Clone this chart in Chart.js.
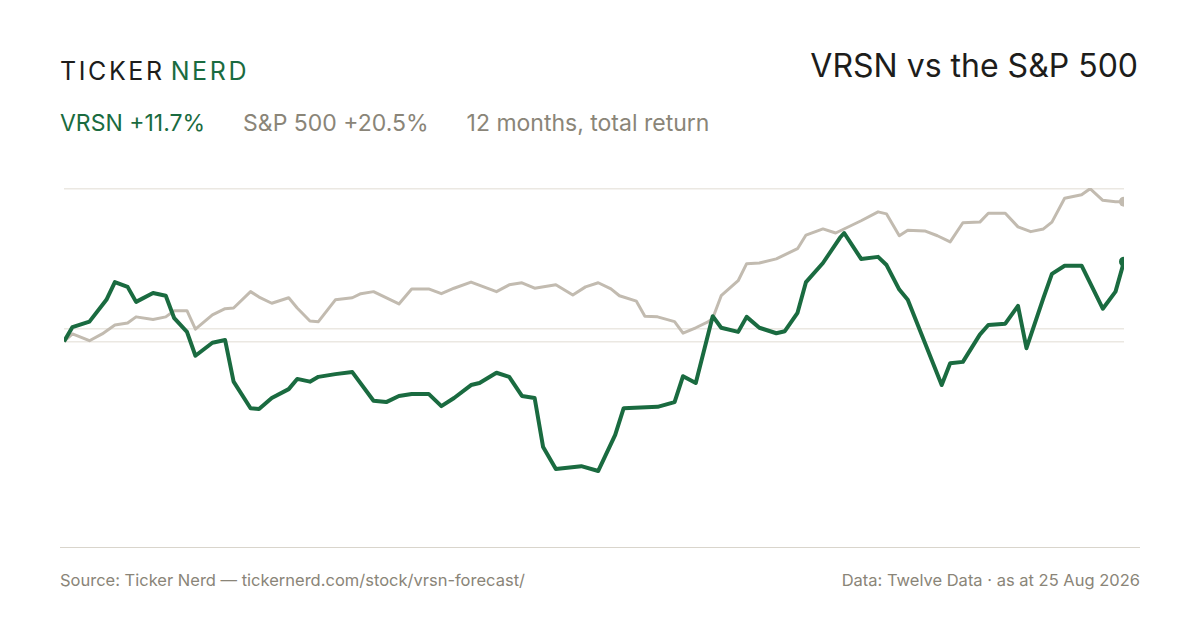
<!DOCTYPE html>
<html>
<head>
<meta charset="utf-8">
<script src="https://cdn.jsdelivr.net/npm/chart.js@4"></script>
<style>
  body { margin: 0; width: 1200px; height: 630px; background: #fff; font-family: Inter, "Noto Sans", sans-serif; position: relative; overflow: hidden; }
  .logo { position: absolute; left: 60px; top: 56px; font-size: 25px; letter-spacing: 2.6px; color: #1d1d1b; }
  .logo span { color: #1a6b40; margin-left: 6px; }
  .title { position: absolute; right: 62px; top: 46px; font-size: 32px; color: #1d1d1b; }
  .sub { position: absolute; left: 60px; top: 109px; font-size: 23px; color: #8a8578; }
  .sub .v { color: #1a6b40; margin-right: 38px; }
  .sub .s { margin-right: 38px; }
  .axis { position: absolute; left: 60px; width: 1080px; top: 547px; height: 1px; background: #d9d5cc; }
  .foot { position: absolute; top: 570px; font-size: 16.5px; color: #8a8578; }
  #wrap { position: absolute; left: 56px; top: 180px; width: 1076px; height: 376px; }
</style>
</head>
<body>
<div class="logo">TICKER<span>NERD</span></div>
<div class="title">VRSN vs the S&amp;P 500</div>
<div class="sub"><span class="v">VRSN +11.7%</span><span class="s">S&amp;P 500 +20.5%</span>12 months, total return</div>
<div id="wrap"><canvas id="c"></canvas></div>
<div class="axis"></div>
<div class="foot" style="left:60px">Source: Ticker Nerd — tickernerd.com/stock/vrsn-forecast/</div>
<div class="foot" style="right:60px">Data: Twelve Data · as at 25 Aug 2026</div>
<script>
// trading day index and total return (%)
const vrsnDays = [0,2,6,10,12,15,17,21,24,26,29,31,35,38,40,44,46,49,53,55,58,60,64,68,73,76,79,82,86,89,92,96,98,102,105,108,111,113,116,122,126,130,132,140,144,146,149,153,155,159,161,164,168,170,173,175,179,183,184,188,192,194,197,199,207,209,212,216,218,222,225,227,231,233,236,240,245,248,250];
const vrsnReturn = [0,2.1,2.9,6.1,8.7,8.0,5.8,7.1,6.7,3.4,1.4,-2.1,-0.2,0.2,-5.9,-9.8,-9.9,-8.3,-7.0,-5.5,-5.9,-5.2,-4.8,-4.5,-8.7,-8.9,-8.0,-7.7,-7.7,-9.5,-8.3,-6.4,-6.1,-4.6,-5.2,-8.0,-8.3,-15.5,-18.7,-18.3,-19.0,-13.7,-9.8,-9.6,-8.9,-5.1,-6.1,3.7,2.0,1.4,3.6,2.0,1.2,1.5,4.2,8.7,11.5,15.2,15.9,12.1,12.4,11.2,7.6,6.1,-6.4,-3.2,-3.0,1.0,2.4,2.6,5.2,-1.0,6.4,9.9,11.1,11.1,4.8,7.3,11.7];
const spxDays = [0,2,6,9,12,15,17,21,24,26,29,31,35,38,40,44,46,49,53,55,58,60,64,68,70,73,79,82,86,89,92,96,102,105,108,111,116,120,123,126,129,131,135,137,140,144,146,149,152,153,155,159,161,164,168,173,175,179,182,188,192,194,197,199,203,206,209,212,216,218,222,225,228,231,233,236,240,242,245,248,250];
const spxReturn = [0,1.1,0.1,1.1,2.4,2.7,3.6,3.2,3.6,4.5,4.5,1.8,3.9,4.8,4.9,7.3,6.5,5.6,6.4,4.9,3.0,2.9,6.1,6.4,7.0,7.3,5.5,7.7,7.7,7.0,7.8,8.7,7.3,8.3,8.6,7.8,8.3,6.8,8.0,8.6,7.7,6.7,5.9,3.7,3.6,2.9,1.2,2.0,2.9,3.4,6.7,8.9,11.4,11.5,12.1,13.6,15.6,16.5,15.9,17.7,19.0,18.7,15.5,16.3,16.2,15.5,14.6,17.4,17.5,18.8,18.8,16.8,16.1,16.5,17.5,21.0,21.5,22.4,20.7,20.5,20.5];
const gridValues = [22.4, 1.8, 0];

const toPts = (d, v) => d.map((x, i) => ({ x, y: v[i] }));
const lastDot = (n) => (ctx) => ctx.dataIndex === n - 1 ? 5 : 0;

new Chart(document.getElementById('c'), {
    type: 'line',
    data: {
        datasets: [
            {
                data: toPts(vrsnDays, vrsnReturn),
                borderColor: '#1a6b40', backgroundColor: '#1a6b40',
                borderWidth: 4, tension: 0, borderJoinStyle: 'round',
                pointRadius: lastDot(vrsnDays.length), pointBorderWidth: 0
            },
            {
                data: toPts(spxDays, spxReturn),
                borderColor: '#c2bbb0', backgroundColor: '#c2bbb0',
                borderWidth: 3, tension: 0, borderJoinStyle: 'round',
                pointRadius: lastDot(spxDays.length), pointBorderWidth: 0
            }
        ]
    },
    options: {
        responsive: true, maintainAspectRatio: false, animation: false,
        layout: { padding: { left: 8, right: 8, top: 8, bottom: 8 } },
        plugins: { legend: { display: false }, tooltip: { enabled: false } },
        scales: {
            x: { type: 'linear', min: 0, max: 250, display: false },
            y: {
                min: -30.3, max: 22.5,
                border: { display: false },
                ticks: { display: false },
                grid: { color: '#ebe8e2', lineWidth: 1.5, drawTicks: false },
                afterBuildTicks: (s) => { s.ticks = gridValues.map(v => ({ value: v })); }
            }
        }
    }
});
</script>
</body>
</html>
